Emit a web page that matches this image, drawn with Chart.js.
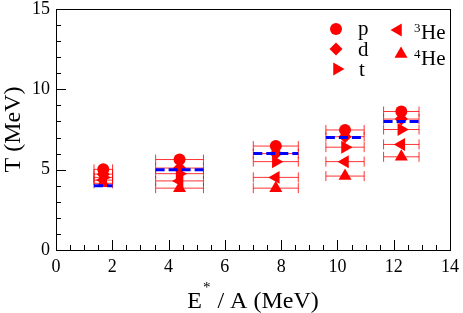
<!DOCTYPE html>
<html><head><meta charset="utf-8">
<script src="https://cdn.jsdelivr.net/npm/chart.js@4.4.0/dist/chart.umd.min.js"></script>
<style>html,body{margin:0;padding:0;background:#fff;}#wrap{width:463px;height:313px;position:relative;}</style>
</head><body><div id="wrap"><canvas id="c" width="463" height="313"></canvas></div>
<script>
// ---- data ----
const energies   = [1.68, 4.39, 7.81, 10.27, 12.27];   // E*/A (MeV)
const energyErr  = [0.33, 0.85, 0.80, 0.68, 0.63];     // horizontal error
const tempP      = [5.02, 5.63, 6.47, 7.47, 8.62];
const tempD      = [4.72, 5.10, 6.00, 7.05, 8.15];
const tempT      = [4.52, 4.75, 5.50, 6.40, 7.50];
const tempHe3    = [4.35, 4.30, 4.52, 5.50, 6.57];
const tempHe4    = [4.15, 3.85, 3.85, 4.60, 5.80];
const limitT     = [4, 5, 6, 7, 8];                    // blue dashed lines
const xTickLabels = [0, 2, 4, 6, 8, 10, 12, 14];
const yTickLabels = [0, 5, 10, 15];

const RED = '#ff0000', BLUE = '#0000ff';
const SERIF = '"Liberation Serif", "DejaVu Serif", serif';
Chart.defaults.font.family = SERIF;

const species = [
  {label:'p',   vals:tempP,   style:'circle',  radius:6,   rot:0},
  {label:'d',   vals:tempD,   style:'rectRot', radius:6.5, rot:0},
  {label:'t',   vals:tempT,   style:'triangle',radius:7.5, rot:90},
  {label:'3He', vals:tempHe3, style:'triangle',radius:7.5, rot:-90},
  {label:'4He', vals:tempHe4, style:'triangle',radius:7.5, rot:0}
];

const datasets = [];
energies.forEach((e, i) => {
  datasets.push({
    type:'line', label:'limit'+i,
    data:[{x:e - energyErr[i], y:limitT[i]}, {x:e + energyErr[i], y:limitT[i]}],
    borderColor:BLUE, borderWidth:3, borderDash:[9,4], pointRadius:0, fill:false, order:0
  });
});
species.forEach(s => {
  datasets.push({
    type:'scatter', label:s.label,
    data: energies.map((e, i) => ({x:e, y:s.vals[i]})),
    pointStyle:s.style, pointRadius:s.radius, pointRotation:s.rot,
    backgroundColor:RED, borderColor:RED, borderWidth:0, order:1
  });
});

const decor = {
  id:'decor',
  beforeDatasetsDraw(chart){
    const ctx = chart.ctx, xs = chart.scales.x, ys = chart.scales.y;
    ctx.save();
    ctx.strokeStyle = 'rgba(255,0,0,0.8)'; ctx.lineWidth = 1;
    species.forEach(s => {
      energies.forEach((e, i) => {
        const x1 = xs.getPixelForValue(e - energyErr[i]);
        const x2 = xs.getPixelForValue(e + energyErr[i]);
        const y = ys.getPixelForValue(s.vals[i]);
        ctx.beginPath();
        ctx.moveTo(x1, y); ctx.lineTo(x2, y);
        ctx.moveTo(x1, y - 5); ctx.lineTo(x1, y + 5);
        ctx.moveTo(x2, y - 5); ctx.lineTo(x2, y + 5);
        ctx.stroke();
      });
    });
    ctx.restore();
  },
  afterDraw(chart){
    const ctx = chart.ctx, xs = chart.scales.x, ys = chart.scales.y, a = chart.chartArea;
    ctx.save();
    // frame
    ctx.strokeStyle = '#000'; ctx.lineWidth = 1;
    ctx.strokeRect(Math.round(a.left) + 0.5, Math.round(a.top) + 0.5,
                   Math.round(a.right - a.left), Math.round(a.bottom - a.top));
    // ticks (inward)
    ctx.beginPath();
    for (let v = 0; v <= 14.001; v += 0.5) {
      const px = Math.round(xs.getPixelForValue(v)) + 0.5;
      const len = (Math.abs(v % 2) < 1e-6) ? 10 : 5;
      ctx.moveTo(px, a.bottom); ctx.lineTo(px, a.bottom - len);
    }
    for (let v = 0; v <= 15.001; v += 1) {
      const py = Math.round(ys.getPixelForValue(v)) + 0.5;
      const len = (v % 5 === 0) ? 10 : 5;
      ctx.moveTo(a.left, py); ctx.lineTo(a.left + len, py);
    }
    ctx.stroke();
    // axis titles
    ctx.fillStyle = '#000';
    ctx.font = '24px ' + SERIF;
    ctx.textBaseline = 'alphabetic';
    const cx = (a.left + a.right) / 2;
    const wE = ctx.measureText('E').width;
    const rest = ' / A (MeV)';
    const wR = ctx.measureText(rest).width;
    ctx.font = '15px ' + SERIF;
    const wS = ctx.measureText('*').width + 2;
    const total = wE + wS + wR;
    let x0 = cx - total / 2;
    ctx.font = '24px ' + SERIF;
    ctx.fillText('E', x0, 308);
    ctx.font = '15px ' + SERIF;
    ctx.fillText('*', x0 + wE + 1, 292);
    ctx.font = '24px ' + SERIF;
    ctx.fillText(rest, x0 + wE + wS, 308);
    ctx.save();
    ctx.translate(20, (a.top + a.bottom) / 2);
    ctx.rotate(-Math.PI / 2);
    ctx.textAlign = 'center';
    ctx.fillText('T (MeV)', 0, 0);
    ctx.restore();
    // legend
    const H = Chart.helpers;
    const mk = (s, x, y) => {
      ctx.fillStyle = RED; ctx.strokeStyle = RED; ctx.lineWidth = 0;
      H.drawPoint(ctx, {pointStyle:s.style, radius:s.radius, rotation:s.rot, borderWidth:0}, x, y);
    };
    ctx.textAlign = 'left';
    mk(species[0], 336, 29); mk(species[1], 336, 49); mk(species[2], 337, 69);
    ctx.fillStyle = '#000';
    ctx.font = '21px ' + SERIF;
    ctx.fillText('p', 358, 35); ctx.fillText('d', 358, 56); ctx.fillText('t', 359, 76);
    mk(species[3], 398, 30); mk(species[4], 401, 54);
    ctx.fillStyle = '#000';
    ctx.font = '13px ' + SERIF; ctx.fillText('3', 414, 32);
    ctx.font = '21px ' + SERIF; ctx.fillText('He', 421, 39);
    ctx.font = '13px ' + SERIF; ctx.fillText('4', 414, 58);
    ctx.font = '21px ' + SERIF; ctx.fillText('He', 421, 65);
    ctx.restore();
  }
};

new Chart(document.getElementById('c'), {
  data:{datasets},
  options:{
    responsive:false, animation:false, devicePixelRatio:1,
    layout:{padding:{top:9, right:13, left:0, bottom:0}},
    plugins:{legend:{display:false}, tooltip:{enabled:false}},
    scales:{
      x:{type:'linear', position:'bottom', min:0, max:14,
         afterFit(s){ s.height = 63; s.paddingLeft = 0; s.paddingRight = 0; },
         afterBuildTicks(s){ s.ticks = xTickLabels.map(v => ({value:v})); },
         grid:{display:false, drawTicks:false}, border:{display:false},
         ticks:{font:{family:SERIF, size:18}, color:'#000', padding:6, maxRotation:0, autoSkip:false}},
      y:{type:'linear', position:'left', min:0, max:15,
         afterFit(s){ s.width = 56; s.paddingTop = 0; s.paddingBottom = 0; },
         afterBuildTicks(s){ s.ticks = yTickLabels.map(v => ({value:v})); },
         grid:{display:false, drawTicks:false}, border:{display:false},
         ticks:{font:{family:SERIF, size:18}, color:'#000', padding:6, autoSkip:false}}
    }
  },
  plugins:[decor]
});
</script>
</body></html>
